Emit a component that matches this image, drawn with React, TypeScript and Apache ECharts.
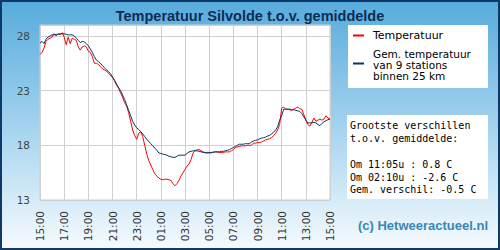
import React, { useEffect, useRef } from "react";
import * as echarts from "echarts";

// Readings every 10 minutes, starting at 15:00 and running 24 hours
const START_HOUR = 15;
const STEP_MINUTES = 10;

const temperatuur = [
  26.3, 26.5, 26.9, 27.5, 27.7, 27.8, 27.9, 28.2, 28.0, 28.2,
  28.1, 28.3, 27.9, 27.2, 27.9, 27.3, 27.8, 27.7, 27.6, 27.0,
  26.7, 27.0, 27.1, 27.0, 26.6, 26.5, 26.1, 25.5, 25.5, 25.4,
  25.2, 25.0, 24.9, 24.8, 24.6, 24.4, 24.2, 23.9, 23.5, 23.2,
  22.8, 22.4, 21.9, 21.6, 21.0, 20.2, 19.4, 18.9, 18.55, 19.1,
  19.25, 18.8, 18.0, 17.2, 16.6, 16.2, 15.8, 15.4, 15.2, 15.0,
  14.9, 14.85, 14.9, 14.9, 14.85, 14.8, 14.5, 14.3, 14.5, 14.8,
  15.2, 15.5, 15.8, 16.1, 16.3, 16.7, 17.3, 17.5, 17.6, 17.6,
  17.5, 17.4, 17.3, 17.3, 17.3, 17.3, 17.4, 17.4, 17.4, 17.35,
  17.35, 17.35, 17.4, 17.4, 17.4, 17.5, 17.6, 17.8, 17.85, 17.9,
  17.95, 17.95, 17.95, 18.0, 18.0, 18.0, 18.2, 18.2, 18.25, 18.25,
  18.3, 18.4, 18.5, 18.55, 18.6, 18.7, 18.9, 19.1, 19.4, 19.9,
  21.4, 21.5, 21.3, 21.3, 21.25, 21.2, 21.3, 21.4, 21.5, 21.35,
  21.3, 20.8, 20.3, 19.9, 19.75, 20.1, 20.5, 20.2, 20.3, 20.4,
  20.3, 20.4, 20.7, 20.5, 20.4,
];

const gemiddelde = [
  27.35, 27.5, 27.3, 27.7, 27.9, 28.0, 28.1, 28.1, 28.15, 28.15,
  28.2, 28.2, 28.2, 28.15, 28.1, 28.1, 28.1, 28.0, 27.8, 27.6,
  27.4, 27.5, 27.45, 27.3, 27.1, 26.8, 26.5, 26.1, 25.8, 25.65,
  25.5, 25.3, 25.1, 24.9, 24.75, 24.55, 24.25, 23.95, 23.6, 23.3,
  23.0, 22.6, 22.2, 21.7, 21.2, 20.7, 20.2, 19.85, 19.6, 19.45,
  19.25, 19.05, 18.8, 18.55, 18.35, 18.15, 17.95, 17.75, 17.55, 17.3,
  17.25, 17.2, 17.15, 17.1, 17.0, 16.95, 16.9, 16.9, 17.0, 17.1,
  17.1, 17.1, 17.1, 17.25, 17.4, 17.45, 17.5, 17.5, 17.5, 17.45,
  17.4, 17.35, 17.35, 17.35, 17.35, 17.35, 17.35, 17.4, 17.4, 17.4,
  17.45, 17.45, 17.5, 17.55, 17.6, 17.7, 17.8, 17.9, 18.0, 18.1,
  18.1, 18.1, 18.15, 18.15, 18.15, 18.3, 18.4, 18.45, 18.5, 18.6,
  18.65, 18.7, 18.75, 18.85, 18.9, 19.05, 19.2, 19.4, 19.7, 20.3,
  20.7, 21.3, 21.3, 21.3, 21.3, 21.25, 21.25, 21.2, 21.15, 21.1,
  20.9, 20.6, 20.3, 20.05, 20.05, 20.05, 20.1, 20.05, 19.9, 19.8,
  20.0, 20.15, 20.25, 20.35, 20.4,
];

const legendLabels = ["Temperatuur", "Gem. temperatuur\nvan 9 stations\nbinnen 25 km"];
const statsLines = [
  "Grootste verschillen",
  "t.o.v. gemiddelde:",
  "",
  "Om 11:05u : 0.8 C",
  "Om 02:10u : -2.6 C",
  "Gem. verschil: -0.5 C",
];

const TITLE = "Temperatuur Silvolde t.o.v. gemiddelde";
const CREDIT = "(c) Hetweeractueel.nl";

const RED = "#ff0000";
const NAVY = "#0b3560";
const SANS = "'DejaVu Sans', Verdana, sans-serif";

const toPairs = (vals: number[]) => vals.map((v, i) => [i * STEP_MINUTES, v]);

const hourLabel = (minutes: number) => {
  const h = (START_HOUR + Math.round(minutes / 60)) % 24;
  return (h < 10 ? "0" : "") + h + ":00";
};

export default function App() {
  const ref = useRef<HTMLDivElement>(null);

  useEffect(() => {
    if (!ref.current) return;
    const chart = echarts.init(ref.current, undefined, { renderer: "svg" });

    chart.setOption({
      animation: false,
      backgroundColor: new echarts.graphic.LinearGradient(0, 0, 0, 1, [
        { offset: 0, color: "#56abdb" },
        { offset: 0.5, color: "#a3d2ee" },
        { offset: 1, color: "#f6fbfe" },
      ]),
      title: {
        text: TITLE,
        left: "center",
        top: 3,
        textStyle: {
          fontFamily: "'Liberation Sans', Arial, sans-serif",
          fontWeight: "bold",
          fontSize: 14.5,
          color: "#0c2d55",
        },
      },
      grid: {
        left: 40,
        top: 25,
        width: 290,
        height: 175,
        show: true,
        backgroundColor: "#ffffff",
        borderColor: "#cccccc",
        borderWidth: 1,
      },
      xAxis: {
        type: "value",
        min: 0,
        max: 24 * 60,
        interval: 120,
        axisLine: { show: false },
        axisTick: { show: false },
        splitLine: { show: true, lineStyle: { color: "#d0d0d0", width: 1 } },
        axisLabel: {
          rotate: 90,
          margin: 11,
          color: "#333333",
          fontFamily: SANS,
          fontSize: 10.5,
          showMinLabel: true,
          showMaxLabel: true,
          formatter: (v: number) => hourLabel(v),
        },
      },
      yAxis: {
        type: "value",
        min: 13,
        max: 29,
        interval: 5,
        axisLine: { show: false },
        axisTick: { show: false },
        splitLine: { show: true, lineStyle: { color: "#d0d0d0", width: 1 } },
        axisLabel: {
          margin: 10,
          color: "#444444",
          fontFamily: SANS,
          fontSize: 10.5,
          formatter: (v: number) => ((v - 13) % 5 === 0 ? String(v) : ""),
        },
      },
      series: [
        {
          name: "Temperatuur",
          type: "line",
          data: toPairs(temperatuur),
          showSymbol: false,
          lineStyle: { color: RED, width: 1 },
          itemStyle: { color: RED },
          z: 2,
        },
        {
          name: "Gem. temperatuur",
          type: "line",
          data: toPairs(gemiddelde),
          showSymbol: false,
          lineStyle: { color: NAVY, width: 1 },
          itemStyle: { color: NAVY },
          z: 3,
        },
      ],
      graphic: [
        // legend box
        {
          type: "rect",
          shape: { x: 348, y: 25, width: 140, height: 63 },
          style: { fill: "#ffffff" },
          z: 10,
        },
        {
          type: "line",
          shape: { x1: 353, y1: 35.5, x2: 364, y2: 35.5 },
          style: { stroke: RED, lineWidth: 2 },
          z: 11,
        },
        {
          type: "text",
          x: 373,
          y: 35.5,
          style: {
            text: legendLabels[0],
            fontFamily: SANS,
            fontSize: 11,
            fill: "#000000",
            verticalAlign: "middle",
          },
          z: 11,
        },
        {
          type: "line",
          shape: { x1: 353, y1: 63.5, x2: 364, y2: 63.5 },
          style: { stroke: NAVY, lineWidth: 2 },
          z: 11,
        },
        {
          type: "text",
          x: 373,
          y: 64.5,
          style: {
            text: legendLabels[1],
            fontFamily: SANS,
            fontSize: 10.5,
            lineHeight: 11,
            fill: "#000000",
            verticalAlign: "middle",
          },
          z: 11,
        },
        // differences box
        {
          type: "rect",
          shape: { x: 347, y: 115, width: 141, height: 84 },
          style: { fill: "#ffffff" },
          z: 10,
        },
        {
          type: "text",
          x: 350,
          y: 119.5,
          style: {
            text: statsLines.join("\n"),
            fontFamily: "'DejaVu Sans Mono', monospace",
            fontSize: 10,
            lineHeight: 12.8,
            fill: "#000000",
            verticalAlign: "top",
          },
          z: 11,
        },
        {
          type: "text",
          x: 423,
          y: 225,
          style: {
            text: CREDIT,
            fontFamily: "'Liberation Sans', Arial, sans-serif",
            fontWeight: "bold",
            fontSize: 13,
            fill: "#3a86b4",
            align: "center",
            verticalAlign: "middle",
          },
          z: 11,
        },
        // outer frame
        {
          type: "rect",
          shape: { x: 1, y: 1, width: 498, height: 248 },
          style: { fill: "none", stroke: "#0d3a68", lineWidth: 2 },
          z: 20,
        },
      ],
    });

    return () => chart.dispose();
  }, []);

  return (
    <div
      ref={ref}
      style={{ position: "fixed", left: 0, top: 0, width: 500, height: 250 }}
    />
  );
}
